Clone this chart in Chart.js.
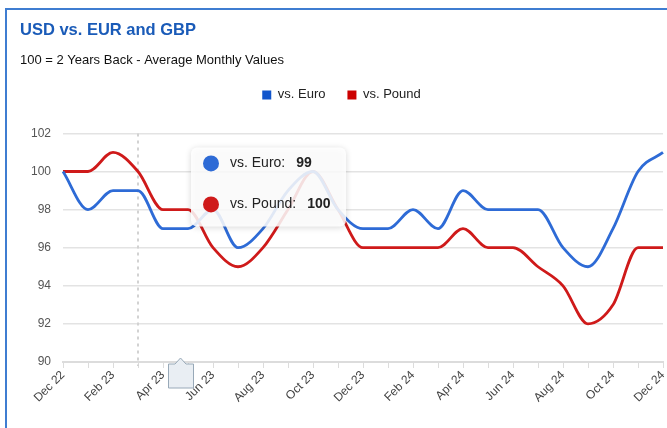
<!DOCTYPE html>
<html>
<head>
<meta charset="utf-8">
<script src="https://cdn.jsdelivr.net/npm/chart.js@4.4.1/dist/chart.umd.min.js"></script>
<style>
  body { margin: 0; background: #fff; }
  .card {
    position: absolute;
    left: 5px;
    top: 8px;
    width: 662px;
    height: 420px;
    border-top: 2px solid #3f7dd1;
    border-left: 2px solid #3f7dd1;
  }
  #fxChart { display: block; }
</style>
</head>
<body>
<div class="card">
  <canvas id="fxChart" width="660" height="418"></canvas>
</div>
<script>
// Month labels (Dec 22 .. Dec 24)
const months = [
  "Dec 22", "Jan 23", "Feb 23", "Mar 23", "Apr 23", "May 23", "Jun 23",
  "Jul 23", "Aug 23", "Sep 23", "Oct 23", "Nov 23", "Dec 23", "Jan 24",
  "Feb 24", "Mar 24", "Apr 24", "May 24", "Jun 24", "Jul 24", "Aug 24",
  "Sep 24", "Oct 24", "Nov 24", "Dec 24",
];

// Index values, 100 = 2 years back
const euroValues = [
  100, 98, 99, 99, 97, 97, 98, 96, 97, 99, 100, 98, 97,
  97, 98, 97, 99, 98, 98, 98, 96, 95, 97, 100, 101,
];
const poundValues = [
  100, 100, 101, 100, 98, 98, 96, 95, 96, 98, 100, 98, 96,
  96, 96, 96, 97, 96, 96, 95, 94, 92, 93, 96, 96,
];

const yTicks = [90, 92, 94, 96, 98, 100, 102];

const seriesNames = ["vs. Euro", "vs. Pound"];
const hoverIndex = 3; // Mar 23

const FONT = "'Liberation Sans', Arial, sans-serif";
const BLUE = "#2e6bd6";
const RED = "#cf1a1a";

// extra space between legend and plot
const legendSpacer = {
  id: "legendSpacer",
  beforeInit(chart) {
    const origFit = chart.legend.fit;
    chart.legend.fit = function () {
      origFit.bind(chart.legend)();
      this.height += 22;
    };
  },
};

// Crosshair + tooltip drawn over the chart
const hoverPlugin = {
  id: "hoverPlugin",
  beforeDatasetsDraw(chart) {
    const { ctx, chartArea, scales } = chart;
    const x = scales.x.getPixelForValue(hoverIndex);
    ctx.save();
    ctx.strokeStyle = "#d2d2d2";
    ctx.lineWidth = 2;
    ctx.setLineDash([3, 4]);
    ctx.beginPath();
    ctx.moveTo(x, chartArea.top);
    ctx.lineTo(x, chartArea.bottom + 4);
    ctx.stroke();
    ctx.restore();
  },
  afterDraw(chart) {
    const { ctx, chartArea, scales } = chart;
    const x = scales.x.getPixelForValue(hoverIndex);

    // tooltip box
    const left = x + 53;
    const top = chartArea.top + 14;
    const w = 155;
    const h = 79;
    ctx.save();
    ctx.shadowColor = "rgba(0,0,0,0.18)";
    ctx.shadowBlur = 6;
    ctx.shadowOffsetY = 1;
    ctx.fillStyle = "rgba(255,255,255,0.86)";
    ctx.beginPath();
    ctx.roundRect(left, top, w, h, 6);
    ctx.fill();
    ctx.restore();

    const rows = [
      { name: seriesNames[0], value: euroValues[hoverIndex], color: BLUE },
      { name: seriesNames[1], value: poundValues[hoverIndex], color: RED },
    ];
    ctx.save();
    ctx.textBaseline = "middle";
    rows.forEach((r, i) => {
      const cy = top + 16 + i * 41;
      ctx.fillStyle = r.color;
      ctx.beginPath();
      ctx.arc(left + 20, cy, 8, 0, Math.PI * 2);
      ctx.fill();
      ctx.fillStyle = "#222";
      ctx.font = "14px " + FONT;
      const label = r.name + ":";
      ctx.fillText(label, left + 39, cy);
      const lw = ctx.measureText(label).width;
      ctx.font = "bold 14px " + FONT;
      ctx.fillText(String(r.value), left + 39 + lw + 11, cy);
    });
    ctx.restore();

    // small crosshair label box under the axis
    const bx = x + 30;
    const by = chartArea.bottom - 4;
    ctx.save();
    ctx.fillStyle = "#e9eef3";
    ctx.strokeStyle = "#98a9b8";
    ctx.lineWidth = 1;
    ctx.beginPath();
    ctx.moveTo(bx + 0.5, by + 6);
    ctx.lineTo(bx + 7, by + 6);
    ctx.lineTo(bx + 12.5, by);
    ctx.lineTo(bx + 18, by + 6);
    ctx.lineTo(bx + 25.5, by + 6);
    ctx.lineTo(bx + 25.5, by + 30);
    ctx.lineTo(bx + 0.5, by + 30);
    ctx.closePath();
    ctx.fill();
    ctx.stroke();
    ctx.restore();
  },
};

const ctx = document.getElementById("fxChart").getContext("2d");
const fxChart = new Chart(ctx, {
  type: "line",
  data: {
    labels: months,
    datasets: [
      {
        label: seriesNames[0],
        data: euroValues,
        borderColor: BLUE,
        backgroundColor: "#1155cc",
        borderWidth: 2.8,
        pointRadius: 0,
        cubicInterpolationMode: "monotone",
      },
      {
        label: seriesNames[1],
        data: poundValues,
        borderColor: RED,
        backgroundColor: "#cc0000",
        borderWidth: 2.8,
        pointRadius: 0,
        cubicInterpolationMode: "monotone",
      },
    ],
  },
  options: {
    responsive: false,
    animation: false,
    events: [],
    layout: { padding: { left: 13, right: 4, top: 0, bottom: 0 } },
    plugins: {
      title: {
        display: true,
        text: "USD vs. EUR and GBP",
        align: "start",
        color: "#1a5bb8",
        font: { family: FONT, size: 16.5, weight: "bold" },
        padding: { top: 11, bottom: 6 },
      },
      subtitle: {
        display: true,
        text: "100 = 2 Years Back - Average Monthly Values",
        align: "start",
        color: "#111",
        font: { family: FONT, size: 13 },
        padding: { top: 6, bottom: -2 },
      },
      legend: {
        display: true,
        position: "top",
        labels: {
          boxWidth: 9,
          boxHeight: 9,
          color: "#222",
          padding: 22,
          font: { family: FONT, size: 13 },
          generateLabels(chart) {
            return chart.data.datasets.map((ds, i) => ({
              text: ds.label,
              fillStyle: ds.backgroundColor,
              strokeStyle: ds.backgroundColor,
              lineWidth: 0,
              datasetIndex: i,
              fontColor: "#222",
            }));
          },
        },
      },
      tooltip: { enabled: false },
    },
    scales: {
      x: {
        grid: {
          display: true,
          drawOnChartArea: false,
          drawTicks: true,
          tickLength: 6,
          color: "#dcdcdc",
        },
        border: { color: "#dcdcdc", width: 2 },
        ticks: {
          autoSkip: false,
          maxRotation: 45,
          minRotation: 45,
          padding: 0,
          color: "#444",
          font: { family: FONT, size: 12 },
          callback: (value, index) => (index % 2 === 0 ? months[index] : ""),
        },
        afterFit: (scale) => {
          scale.height = 66;
          scale.paddingRight = 0;
        },
      },
      y: {
        min: 90,
        max: 102,
        afterBuildTicks: (scale) => {
          scale.ticks = yTicks.map((v) => ({ value: v }));
        },
        grid: { color: "#e3e3e3", lineWidth: 1.5, drawTicks: false },
        border: { display: false },
        ticks: {
          padding: 12,
          color: "#555",
          font: { family: FONT, size: 12 },
        },
        afterFit: (scale) => {
          scale.width = 43;
        },
      },
    },
  },
  plugins: [legendSpacer, hoverPlugin],
});
</script>
</body>
</html>
